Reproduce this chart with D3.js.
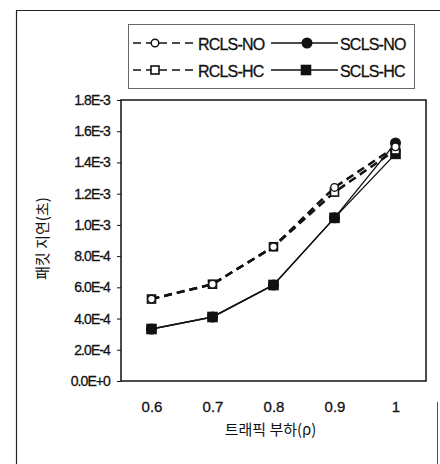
<!DOCTYPE html>
<html>
<head>
<meta charset="utf-8">
<script src="https://cdn.jsdelivr.net/npm/d3@7"></script>
<style>
  body { margin: 0; background: #fff; }
  svg { display: block; }
  text { font-family: "Liberation Sans", Arial, sans-serif; fill: #111; }
  .kr { font-family: "Noto Sans CJK KR", "Noto Sans", sans-serif; }
</style>
</head>
<body>
<div id="chart"></div>
<script>
// x categories (traffic load)
const loads = ["0.6", "0.7", "0.8", "0.9", "1"];

// packet delay (sec) per series
const rclsNo = [5.25e-4, 6.2e-4, 8.6e-4, 1.24e-3, 1.50e-3];
const rclsHc = [5.25e-4, 6.2e-4, 8.6e-4, 1.21e-3, 1.48e-3];
const sclsNo = [3.33e-4, 4.1e-4, 6.15e-4, 1.045e-3, 1.525e-3];
const sclsHc = [3.33e-4, 4.1e-4, 6.15e-4, 1.045e-3, 1.455e-3];

const yTicks = [0, 2e-4, 4e-4, 6e-4, 8e-4, 1.0e-3, 1.2e-3, 1.4e-3, 1.6e-3, 1.8e-3];

const seriesNames = ["RCLS-NO", "SCLS-NO", "RCLS-HC", "SCLS-HC"];

const series = [
    { name: "RCLS-NO", values: rclsNo, dashed: true, shape: "circle", filled: false },
    { name: "RCLS-HC", values: rclsHc, dashed: true, shape: "square", filled: false },
    { name: "SCLS-NO", values: sclsNo, dashed: false, shape: "circle", filled: true },
    { name: "SCLS-HC", values: sclsHc, dashed: false, shape: "square", filled: true }
];

const W = 440, H = 464;
const margin = { top: 100, right: 14, bottom: 83, left: 121 };
const innerW = W - margin.left - margin.right;
const innerH = H - margin.top - margin.bottom;

const svg = d3.select("#chart").append("svg")
    .attr("width", W)
    .attr("height", H);

// outer frame of the figure (scan edges)
svg.append("path")
    .attr("d", "M16.5,464 V10.5 H440")
    .attr("fill", "none")
    .attr("stroke", "#222")
    .attr("stroke-width", 1.2);
svg.append("path")
    .attr("d", "M437.5,402 V464")
    .attr("fill", "none")
    .attr("stroke", "#555")
    .attr("stroke-width", 1);

const g = svg.append("g")
    .attr("transform", `translate(${margin.left},${margin.top})`);

// scales
const x = d3.scalePoint()
    .domain(loads)
    .range([0, innerW])
    .padding(0.5);

const y = d3.scaleLinear()
    .domain([0, 1.8e-3])
    .range([innerH, 0]);

const fmt = d => d3.format(".1e")(d).replace("e", "E");

// y axis
const yAxis = g.append("g")
    .call(d3.axisLeft(y).tickValues(yTicks).tickFormat(fmt).tickSize(4).tickPadding(7));
yAxis.select(".domain").remove();
yAxis.selectAll("line").attr("stroke", "#111");
yAxis.selectAll("text")
    .style("font-family", "'Liberation Sans', Arial, sans-serif")
    .style("font-size", "14px")
    .attr("letter-spacing", "-0.9")
    .attr("stroke", "#111")
    .attr("stroke-width", 0.3)
    .attr("fill", "#111");

// x axis (labels only)
const xAxis = g.append("g")
    .attr("transform", `translate(0,${innerH})`)
    .call(d3.axisBottom(x).tickSize(0).tickPadding(20));
xAxis.select(".domain").remove();
xAxis.selectAll("text")
    .style("font-family", "'Liberation Sans', Arial, sans-serif")
    .style("font-size", "15px")
    .attr("stroke", "#111")
    .attr("stroke-width", 0.3)
    .attr("fill", "#111");

// plot frame
g.append("rect")
    .attr("x", 0).attr("y", 0)
    .attr("width", innerW).attr("height", innerH)
    .attr("fill", "none")
    .attr("stroke", "#111")
    .attr("stroke-width", 1.5);

// axis titles
svg.append("text")
    .attr("class", "kr")
    .attr("x", margin.left + innerW / 2 - 3)
    .attr("y", 435)
    .attr("text-anchor", "middle")
    .style("font-size", "15px")
    .text("트래픽 부하(ρ)");

svg.append("text")
    .attr("class", "kr")
    .attr("transform", `translate(48,${margin.top + innerH / 2 - 2}) rotate(-90)`)
    .attr("text-anchor", "middle")
    .style("font-size", "15px")
    .text("패킷 지연(초)");

// lines
const line = d3.line()
    .x((d, i) => x(loads[i]))
    .y(d => y(d));

// draw solid series first, dashed on top
const drawOrder = [series[3], series[2], series[1], series[0]];

drawOrder.forEach(s => {
    g.append("path")
        .datum(s.values)
        .attr("d", line)
        .attr("fill", "none")
        .attr("stroke", "#111")
        .attr("stroke-width", s.dashed ? 2.5 : 1.4)
        .attr("stroke-dasharray", s.dashed ? "8,5" : null);
});

const drawMarker = (sel, s, cx, cy) => {
    if (s.shape === "circle") {
        sel.append("circle")
            .attr("cx", cx).attr("cy", cy)
            .attr("r", s.filled ? 4.8 : 3.8)
            .attr("fill", s.filled ? "#111" : "#fff")
            .attr("stroke", "#111")
            .attr("stroke-width", 1.4);
    } else {
        const sz = s.filled ? 9 : 8;
        sel.append("rect")
            .attr("x", cx - sz / 2).attr("y", cy - sz / 2)
            .attr("width", sz).attr("height", sz)
            .attr("fill", s.filled ? "#111" : "#fff")
            .attr("stroke", "#111")
            .attr("stroke-width", 1.6);
    }
};

drawOrder.forEach(s => {
    s.values.forEach((v, i) => drawMarker(g, s, x(loads[i]), y(v)));
});

// legend
const legend = svg.append("g");
legend.append("rect")
    .attr("x", 128.5).attr("y", 24.5)
    .attr("width", 286).attr("height", 64)
    .attr("fill", "#fff")
    .attr("stroke", "#666")
    .attr("stroke-width", 1);

const legendPos = [
    { lx0: 133, lx1: 195, mx: 155, tx: 198, ty: 43 },
    { lx0: 271, lx1: 338, mx: 307, tx: 340, ty: 43 },
    { lx0: 133, lx1: 195, mx: 155, tx: 198, ty: 70 },
    { lx0: 271, lx1: 338, mx: 306, tx: 340, ty: 70 }
];

seriesNames.forEach((name, i) => {
    const s = series.find(d => d.name === name);
    const p = legendPos[i];
    legend.append("line")
        .attr("x1", p.lx0).attr("x2", p.lx1)
        .attr("y1", p.ty).attr("y2", p.ty)
        .attr("stroke", "#111")
        .attr("stroke-width", s.dashed ? 1.6 : 1.3)
        .attr("stroke-dasharray", s.dashed ? "8,5" : null);
    drawMarker(legend, s, p.mx, p.ty);
    legend.append("text")
        .attr("x", p.tx)
        .attr("y", p.ty + 6.5)
        .style("font-size", "16px")
        .attr("letter-spacing", "-0.8")
        .attr("stroke", "#111")
        .attr("stroke-width", 0.3)
        .text(name);
});
</script>
</body>
</html>
